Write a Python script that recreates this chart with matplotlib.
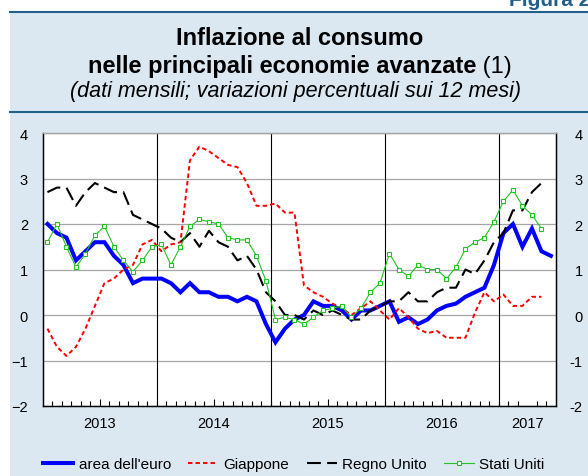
import numpy as np
import matplotlib
matplotlib.use('Agg')
import matplotlib.pyplot as plt
from matplotlib.patches import Rectangle
from matplotlib.lines import Line2D

plt.rcParams['font.family'] = ['Liberation Sans', 'DejaVu Sans']
plt.rcParams['lines.scale_dashes'] = False

# monthly values, starting January 2013
euro = [2.0, 1.8, 1.7, 1.2, 1.4, 1.6, 1.6, 1.3, 1.1, 0.7, 0.8, 0.8,
        0.8, 0.7, 0.5, 0.7, 0.5, 0.5, 0.4, 0.4, 0.3, 0.4, 0.3, -0.2,
        -0.6, -0.3, -0.1, 0.0, 0.3, 0.2, 0.2, 0.1, -0.1, 0.1, 0.1, 0.2,
        0.3, -0.15, -0.05, -0.2, -0.1, 0.1, 0.2, 0.25, 0.4, 0.5, 0.6, 1.1,
        1.8, 2.0, 1.5, 1.9, 1.4, 1.3]
giappone = [-0.3, -0.7, -0.9, -0.7, -0.3, 0.2, 0.7, 0.8, 1.0, 1.1, 1.55, 1.65,
            1.4, 1.55, 1.6, 3.4, 3.7, 3.6, 3.45, 3.3, 3.25, 2.9, 2.4, 2.4,
            2.45, 2.25, 2.25, 0.65, 0.5, 0.4, 0.25, 0.15, 0.0, 0.15, 0.3, 0.1,
            -0.1, 0.15, -0.05, -0.3, -0.4, -0.35, -0.5, -0.5, -0.5, 0.05, 0.5, 0.3,
            0.45, 0.2, 0.2, 0.4, 0.4]
regno_unito = [2.7, 2.8, 2.8, 2.4, 2.7, 2.9, 2.8, 2.7, 2.7, 2.2, 2.1, 2.0,
               1.9, 1.7, 1.6, 1.8, 1.5, 1.85, 1.6, 1.5, 1.2, 1.3, 1.0, 0.5,
               0.3, 0.0, 0.0, -0.1, 0.1, 0.0, 0.1, 0.0, -0.1, -0.1, 0.1, 0.2,
               0.3, 0.3, 0.5, 0.3, 0.3, 0.5, 0.6, 0.6, 1.0, 0.9, 1.2, 1.6,
               1.8, 2.3, 2.3, 2.7, 2.9]
stati_uniti = [1.6, 2.0, 1.5, 1.05, 1.35, 1.75, 1.95, 1.5, 1.2, 0.95, 1.2, 1.5,
               1.55, 1.1, 1.5, 1.95, 2.1, 2.05, 2.0, 1.7, 1.65, 1.65, 1.3, 0.75,
               -0.1, -0.05, -0.1, -0.2, -0.05, 0.1, 0.15, 0.2, -0.05, 0.15, 0.5, 0.7,
               1.35, 1.0, 0.85, 1.1, 1.0, 1.0, 0.8, 1.05, 1.45, 1.6, 1.7, 2.05,
               2.5, 2.75, 2.4, 2.2, 1.9]

years = ['2013', '2014', '2015', '2016', '2017']
n_months = 54  # Jan 2013 - Jun 2017

BG = '#dce8f1'
RULE = '#22608c'
GRID = '#a6a6a6'

fig = plt.figure(figsize=(5.88, 4.77), dpi=100)
fig.patch.set_facecolor('white')

# light blue panel and the two rules of the header
fig.add_artist(Rectangle((10 / 588, 0), 1, 1 - 13 / 477, transform=fig.transFigure,
                         facecolor=BG, edgecolor='none', zorder=0))
for yy in [12.7, 113.3]:
    fig.add_artist(Line2D([10 / 588, 1], [1 - yy / 477] * 2, transform=fig.transFigure,
                          color=RULE, lw=1.5))

# label is cut at the top edge in the original too
fig.text(509 / 588, 1 - 5.5 / 477, 'Figura 2', ha='left', va='baseline',
         fontsize=15, fontweight='bold', color=RULE)
fig.text(300 / 588, 1 - 45 / 477, 'Inflazione al consumo', ha='center', va='baseline',
         fontsize=17, fontweight='bold')
# second title line: bold part and normal "(1)"
t2 = fig.text(0, 1 - 72.7 / 477, 'nelle principali economie avanzate', ha='left',
              va='baseline', fontsize=17, fontweight='bold')
t3 = fig.text(0, 1 - 72.7 / 477, ' (1)', ha='left', va='baseline', fontsize=17)
fig.canvas.draw()
r = fig.canvas.get_renderer()
w2 = t2.get_window_extent(r).width
w3 = t3.get_window_extent(r).width
x0 = 300 - (w2 + w3) / 2
t2.set_x(x0 / 588)
t3.set_x((x0 + w2) / 588)
fig.text(296 / 588, 1 - 96.5 / 477, '(dati mensili; variazioni percentuali sui 12 mesi)',
         ha='center', va='baseline', fontsize=15.5, style='italic')

ax = fig.add_axes([42.7 / 588, 1 - 407 / 477, 513 / 588, 273 / 477])
ax.set_facecolor('white')
x = np.arange(n_months) + 0.5

ax.plot(x[:len(euro)], euro, color='#0000ff', lw=2.9, solid_joinstyle='miter', zorder=3,
        label="area dell'euro")
ax.plot(x[:len(giappone)], giappone, color='#ff0000', lw=1.4, dashes=(3.2, 2.2), zorder=4,
        label='Giappone')
ax.plot(x[:len(regno_unito)], regno_unito, color='black', lw=1.5, dashes=(10, 4.5), zorder=4,
        label='Regno Unito')
ax.plot(x[:len(stati_uniti)], stati_uniti, color='#22c322', lw=0.8, marker='s', ms=3,
        mfc='white', mec='#22c322', mew=0.8, zorder=5, label='Stati Uniti')

ax.set_xlim(0, n_months)
ax.set_ylim(-2, 4)
ax.set_yticks(range(-2, 5))
ax.grid(axis='y', color=GRID, lw=0.9)
ax.set_axisbelow(True)
for m in range(12, n_months, 12):
    ax.axvline(m, color='black', lw=0.8, zorder=2)

# x axis: month ticks inside, year labels at mid-year
year_pos = [6 + 12 * k for k in range(4)] + [51]
ax.set_xticks(year_pos)
ax.set_xticklabels(years, fontsize=10.5)
ax.set_xticks(range(1, n_months), minor=True)
ax.tick_params(axis='x', which='major', direction='in', length=5.2, width=0.8, pad=7)
ax.tick_params(axis='x', which='minor', direction='in', length=3.5, width=0.8)
ax.xaxis.get_major_ticks()[-1].tick1line.set_visible(False)

ax.tick_params(axis='y', length=0, labelsize=10.5, pad=10.6)
ax2 = ax.twinx()
ax2.set_ylim(-2, 4)
ax2.set_yticks(range(-2, 5))
ax2.set_yticklabels([str(v) for v in range(-2, 5)], ha='right')
ax2.tick_params(axis='y', length=0, labelsize=10.5, pad=19.4)

for a in (ax, ax2):
    a.spines['top'].set_color(GRID)
    a.spines['top'].set_linewidth(0.9)
    for s in ['left', 'right', 'bottom']:
        a.spines[s].set_color('black')
        a.spines[s].set_linewidth(0.9)

fig.legend(*ax.get_legend_handles_labels(), loc='center', ncol=4, frameon=False,
           bbox_to_anchor=(294 / 588, 1 - 465 / 477), fontsize=11, handlelength=1.95,
           handletextpad=0.35, columnspacing=1.15)

fig.savefig('out.png', dpi=100, facecolor=fig.get_facecolor())
